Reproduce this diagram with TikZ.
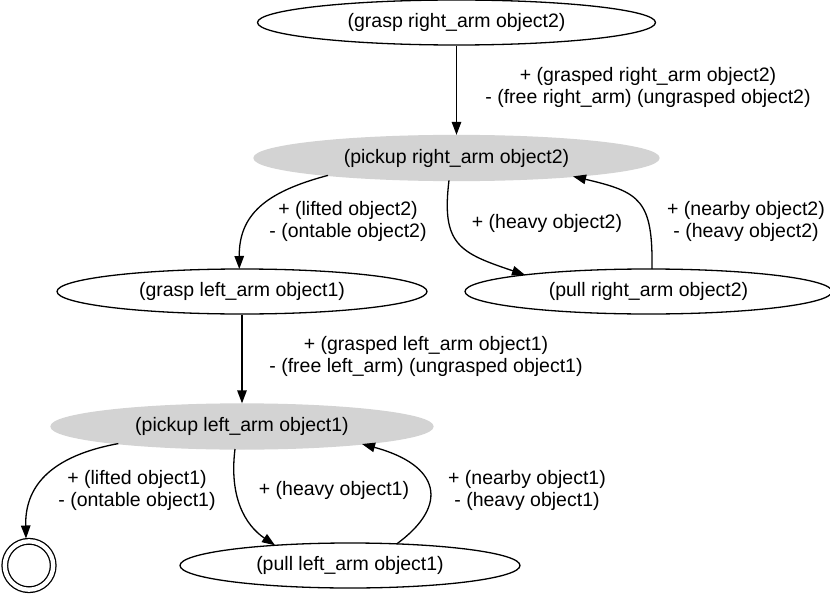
\documentclass[tikz,border=0pt]{standalone}
\usepackage{fontspec}
\setmainfont{Liberation Sans}
\usepackage{xcolor}
\usetikzlibrary{arrows.meta,shapes.geometric,calc}
\definecolor{lgrey}{HTML}{D3D3D3}

\begin{document}
\begin{tikzpicture}[x=1pt, y=-1pt,
        every node/.style={font=\fontsize{19.5}{22}\selectfont},
        act/.style={ellipse, draw, line width=1.3pt, inner sep=0pt,
                    minimum height=45pt},
        pick/.style={act, fill=lgrey, draw=lgrey},
        goal/.style={circle, draw, line width=1.3pt, double, double distance=4.3pt,
                     minimum size=48.4pt, outer sep=3.4pt},
        eff/.style={align=center, inner sep=0pt},
        arrow/.style={-{Triangle[length=13pt,width=9.5pt]}, line width=1.3pt}
    ]
        \useasboundingbox (0,0) rectangle (830,594);

        \node[act, minimum width=398pt] (gr) at (456.5, 22.5) {(grasp right\_arm object2)};
        \node[pick, minimum width=405pt] (pr) at (456.5,158) {(pickup right\_arm object2)};
        \node[act, minimum width=370pt] (gl) at (242,291.5) {(grasp left\_arm object1)};
        \node[act, minimum width=367pt] (pur) at (648.5,291.5) {(pull right\_arm object2)};
        \node[pick, minimum width=382pt] (pl) at (242,426.5) {(pickup left\_arm object1)};
        \node[act, minimum width=340pt] (pul) at (350,565.5) {(pull left\_arm object1)};
        \node[goal] (fin) at (29,565.5) {};

        \node[eff] (l1) at (648,87) {+ (grasped right\_arm object2)\\- (free right\_arm) (ungrasped object2)};
        \node[eff] (l2) at (348,221) {+ (lifted object2)\\- (ontable object2)};
        \node[eff] (l3) at (547,223) {+ (heavy object2)};
        \node[eff] (l4) at (746,221) {+ (nearby object2)\\- (heavy object2)};
        \node[eff] (l5) at (426,356) {+ (grasped left\_arm object1)\\- (free left\_arm) (ungrasped object1)};
        \node[eff] (l6) at (137,490) {+ (lifted object1)\\- (ontable object1)};
        \node[eff] (l7) at (334,490) {+ (heavy object1)};
        \node[eff] (l8) at (527,490) {+ (nearby object1)\\- (heavy object1)};

        \draw[arrow] (gr) -- (pr);
        \draw[arrow] ($(pr)+(-128.5,17.4)$) .. controls (265,192) and (239,215) .. ($(gl)+(-2.7,-22.5)$);
        \draw[arrow] ($(pr)+(-7.5,22.4)$) .. controls (441,245) and (460,253) .. ($(pur)+(-123.5,-16.6)$);
        \draw[arrow] ($(pur)+(3.5,-22.5)$) .. controls (653,200) and (640,192) .. ($(pr)+(116.5,18.4)$);
        \draw[arrow] (gl) -- (pl);
        \draw[arrow] ($(pl)+(-123.7,17.1)$) .. controls (40,458) and (25,495) .. ($(fin)+(-3,-27)$);
        \draw[arrow] ($(pl)+(-7,22.5)$) .. controls (229,497) and (245,525) .. ($(pul)+(-75,-20.2)$);
        \draw[arrow] ($(pul)+(46.7,-21.6)$) .. controls (450,505) and (440,465) .. ($(pl)+(120,17.5)$);
    \end{tikzpicture}
\end{document}
